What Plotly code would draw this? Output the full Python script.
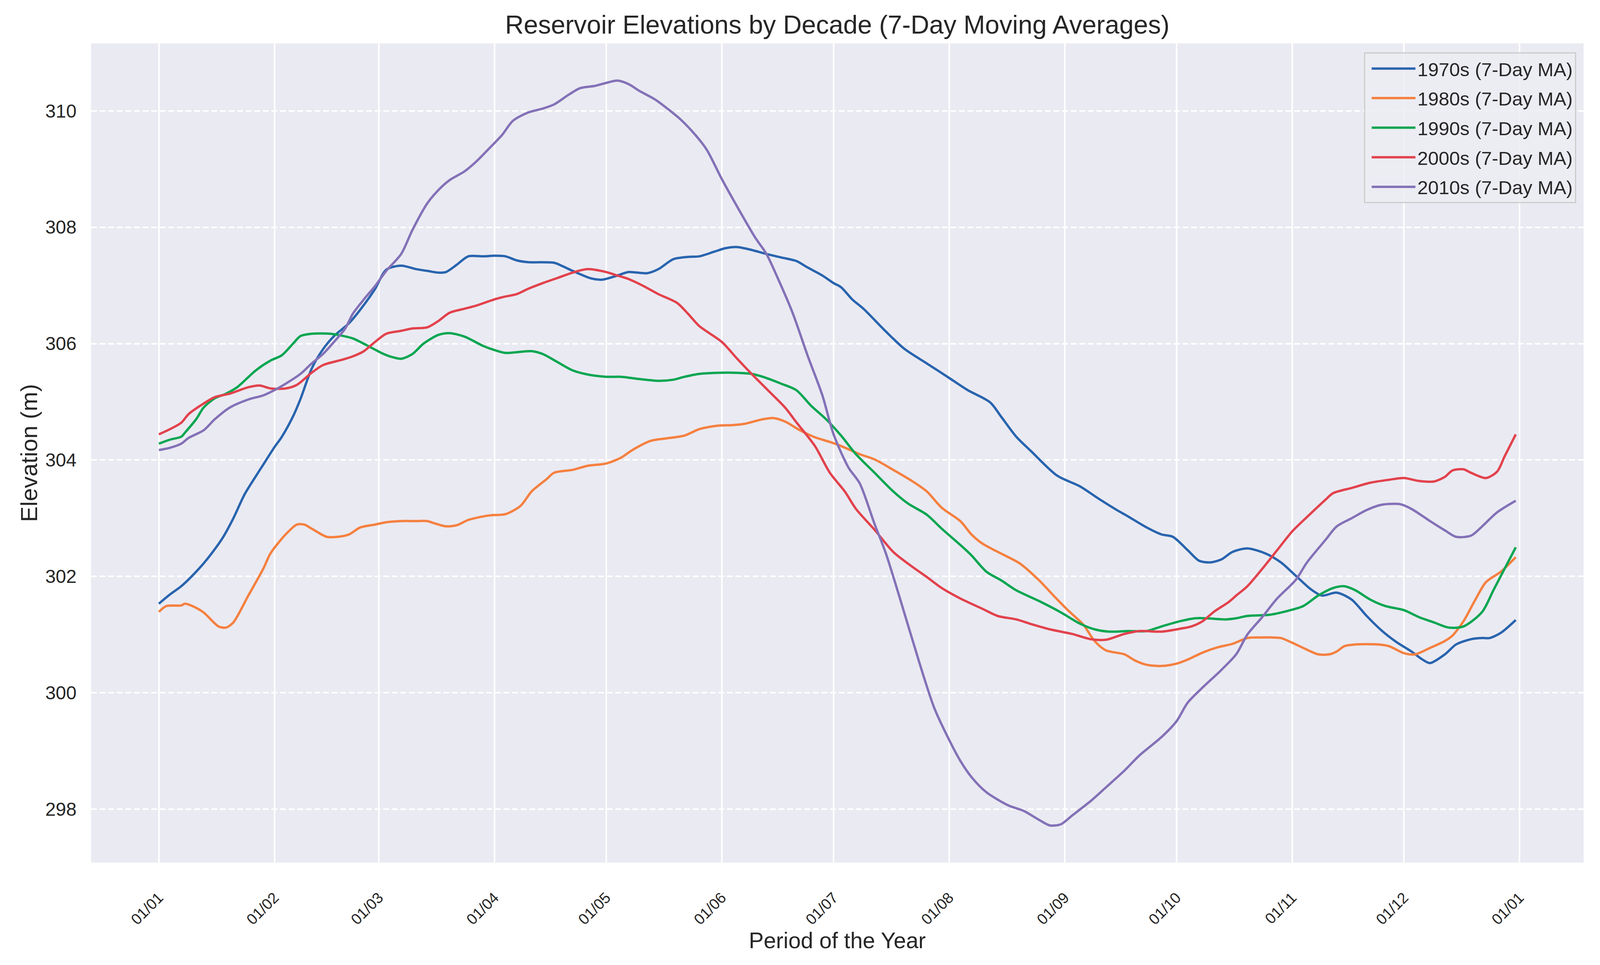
import datetime as dt
import plotly.graph_objects as go

# ---- data (day of year, elevation in m) ----
days_1970s = [0, 3, 6, 10, 13, 17, 20, 23, 26, 28, 31, 33, 36, 38, 41, 44, 47, 51, 54, 58,
              61, 65, 69, 72, 75, 77, 80, 83, 87, 90, 93, 96, 99, 106, 108, 111, 116, 119, 123, 126,
              131, 134, 138, 142, 145, 149, 152, 155, 159, 163, 167, 171, 174, 178, 181, 183, 186, 189, 195, 200,
              206, 212, 217, 223, 226, 230, 234, 241, 247, 252, 257, 260, 265, 269, 272, 276, 279, 282, 285, 288,
              292, 297, 301, 305, 309, 312, 316, 320, 324, 328, 332, 336, 339, 341, 345, 348, 352, 355, 357, 360, 364]
elev_1970s = [301.53, 301.69, 301.83, 302.08, 302.30, 302.65, 303.00, 303.41, 303.72, 303.92, 304.22, 304.40, 304.75, 305.05, 305.57, 305.90, 306.13, 306.35, 306.58, 306.94,
              307.27, 307.34, 307.28, 307.25, 307.22, 307.23, 307.36, 307.50, 307.50, 307.51, 307.50, 307.43, 307.40, 307.39, 307.34, 307.25, 307.12, 307.10, 307.17, 307.23,
              307.21, 307.28, 307.45, 307.49, 307.50, 307.58, 307.64, 307.66, 307.61, 307.54, 307.48, 307.42, 307.31, 307.17, 307.04, 306.97, 306.76, 306.60, 306.21, 305.91,
              305.66, 305.41, 305.20, 304.99, 304.74, 304.40, 304.15, 303.73, 303.55, 303.34, 303.14, 303.03, 302.84, 302.72, 302.68, 302.45, 302.27, 302.24, 302.29, 302.42,
              302.48, 302.39, 302.24, 302.01, 301.78, 301.67, 301.72, 301.60, 301.32, 301.07, 300.87, 300.71, 300.57, 300.51, 300.66, 300.83, 300.92, 300.94, 300.94, 301.03, 301.25]

days_1980s = [0, 2, 6, 7, 9, 12, 16, 18, 20, 24, 28, 30, 34, 37, 39, 41, 45, 48, 51, 54,
              58, 61, 65, 69, 72, 74, 77, 80, 83, 87, 89, 93, 97, 100, 104, 106, 111, 115, 120, 124,
              127, 132, 136, 141, 145, 150, 154, 157, 162, 165, 168, 172, 176, 180, 183, 188, 192, 197, 202, 206,
              210, 215, 218, 221, 226, 231, 236, 240, 244, 248, 251, 254, 259, 262, 265, 269, 273, 276, 280, 284,
              288, 292, 296, 298, 301, 304, 307, 311, 314, 316, 318, 321, 327, 330, 334, 337, 341, 345, 347, 350,
              353, 356, 360, 364]
elev_1980s = [301.39, 301.49, 301.50, 301.53, 301.49, 301.38, 301.14, 301.12, 301.21, 301.67, 302.13, 302.40, 302.72, 302.89, 302.89, 302.82, 302.68, 302.68, 302.72, 302.84,
              302.89, 302.93, 302.95, 302.95, 302.95, 302.91, 302.86, 302.88, 302.97, 303.03, 303.05, 303.07, 303.21, 303.46, 303.67, 303.78, 303.83, 303.90, 303.94, 304.04,
              304.17, 304.33, 304.37, 304.42, 304.53, 304.59, 304.60, 304.62, 304.70, 304.72, 304.66, 304.51, 304.39, 304.31, 304.24, 304.10, 304.01, 303.83, 303.64, 303.46,
              303.18, 302.95, 302.72, 302.56, 302.39, 302.22, 301.94, 301.67, 301.41, 301.17, 300.89, 300.73, 300.66, 300.55, 300.48, 300.46, 300.50, 300.57, 300.69, 300.78,
              300.84, 300.94, 300.95, 300.95, 300.94, 300.86, 300.77, 300.66, 300.66, 300.71, 300.80, 300.83, 300.83, 300.80, 300.68, 300.66, 300.77, 300.89, 300.98, 301.23,
              301.58, 301.90, 302.08, 302.33]

days_1990s = [0, 3, 6, 7, 10, 12, 15, 18, 21, 26, 30, 33, 36, 38, 41, 46, 48, 52, 54, 57,
              60, 62, 65, 68, 71, 75, 78, 82, 87, 90, 93, 100, 103, 107, 111, 115, 120, 124, 129, 134,
              138, 141, 145, 151, 154, 159, 162, 167, 171, 175, 179, 183, 187, 192, 197, 201, 206, 210, 215, 218,
              222, 226, 230, 236, 242, 247, 251, 255, 260, 265, 269, 274, 278, 281, 286, 289, 292, 298, 303, 307,
              311, 315, 318, 321, 325, 329, 334, 338, 342, 346, 350, 355, 358, 361, 364]
elev_1990s = [304.28, 304.35, 304.40, 304.47, 304.70, 304.90, 305.06, 305.14, 305.25, 305.54, 305.71, 305.80, 306.00, 306.13, 306.17, 306.17, 306.15, 306.09, 306.03, 305.93,
              305.83, 305.78, 305.74, 305.82, 306.00, 306.15, 306.18, 306.12, 305.96, 305.89, 305.84, 305.87, 305.82, 305.68, 305.54, 305.47, 305.43, 305.43, 305.39, 305.36,
              305.38, 305.43, 305.48, 305.50, 305.50, 305.48, 305.43, 305.31, 305.20, 304.93, 304.70, 304.42, 304.10, 303.78, 303.46, 303.25, 303.06, 302.82, 302.54, 302.36,
              302.08, 301.93, 301.76, 301.58, 301.38, 301.19, 301.09, 301.05, 301.06, 301.06, 301.14, 301.23, 301.28, 301.28, 301.26, 301.28, 301.32, 301.34, 301.41, 301.49,
              301.67, 301.80, 301.83, 301.76, 301.60, 301.49, 301.42, 301.30, 301.21, 301.12, 301.14, 301.39, 301.76, 302.13, 302.50]

days_2000s = [0, 3, 6, 8, 12, 15, 19, 24, 27, 30, 34, 37, 41, 44, 49, 52, 55, 58, 61, 65,
              68, 72, 75, 78, 82, 85, 90, 93, 96, 99, 103, 107, 111, 115, 120, 123, 126, 130, 134, 139,
              142, 145, 151, 155, 159, 164, 168, 171, 176, 180, 184, 187, 192, 197, 202, 206, 210, 215, 221, 225,
              230, 234, 239, 245, 250, 254, 259, 263, 269, 274, 277, 280, 283, 287, 289, 292, 296, 300, 304, 308,
              313, 315, 320, 325, 330, 334, 338, 342, 345, 347, 350, 352, 356, 359, 361, 364]
elev_2000s = [304.44, 304.53, 304.64, 304.79, 304.97, 305.08, 305.14, 305.25, 305.28, 305.23, 305.23, 305.29, 305.50, 305.63, 305.72, 305.78, 305.87, 306.03, 306.17, 306.22,
              306.26, 306.28, 306.39, 306.53, 306.60, 306.65, 306.76, 306.81, 306.85, 306.94, 307.04, 307.13, 307.22, 307.28, 307.23, 307.17, 307.11, 306.99, 306.85, 306.70,
              306.51, 306.30, 306.03, 305.75, 305.48, 305.16, 304.90, 304.65, 304.24, 303.78, 303.46, 303.16, 302.80, 302.42, 302.17, 301.99, 301.80, 301.62, 301.44, 301.32,
              301.26, 301.18, 301.09, 301.01, 300.92, 300.91, 301.01, 301.06, 301.05, 301.10, 301.14, 301.23, 301.39, 301.56, 301.67, 301.83, 302.13, 302.45, 302.77, 303.02,
              303.32, 303.43, 303.52, 303.61, 303.66, 303.69, 303.64, 303.63, 303.71, 303.82, 303.84, 303.78, 303.69, 303.80, 304.06, 304.44]

days_2010s = [0, 3, 6, 8, 12, 15, 19, 24, 28, 31, 34, 38, 41, 44, 47, 50, 52, 55, 58, 61,
              65, 68, 72, 75, 78, 82, 85, 89, 92, 95, 99, 103, 106, 110, 113, 117, 120, 123, 126, 129,
              133, 136, 140, 144, 147, 151, 155, 160, 163, 166, 170, 174, 178, 181, 185, 188, 192, 195, 199, 204,
              208, 212, 215, 218, 222, 228, 232, 236, 239, 242, 245, 250, 254, 259, 263, 269, 273, 276, 280, 285,
              289, 292, 296, 300, 305, 308, 313, 316, 320, 324, 328, 333, 336, 341, 345, 348, 352, 355, 359, 364]
elev_2010s = [304.17, 304.21, 304.28, 304.38, 304.51, 304.70, 304.90, 305.04, 305.11, 305.20, 305.31, 305.48, 305.66, 305.82, 306.03, 306.26, 306.51, 306.76, 306.99, 307.25,
              307.54, 307.95, 308.41, 308.64, 308.81, 308.96, 309.12, 309.38, 309.58, 309.83, 309.97, 310.04, 310.11, 310.28, 310.39, 310.43, 310.48, 310.52, 310.46, 310.34,
              310.20, 310.06, 309.85, 309.58, 309.33, 308.83, 308.37, 307.82, 307.54, 307.13, 306.53, 305.80, 305.11, 304.44, 303.87, 303.60, 302.90, 302.40, 301.58, 300.52,
              299.74, 299.19, 298.83, 298.55, 298.29, 298.06, 297.97, 297.82, 297.72, 297.74, 297.89, 298.14, 298.37, 298.66, 298.92, 299.24, 299.51, 299.83, 300.09, 300.39,
              300.66, 301.00, 301.30, 301.62, 301.94, 302.24, 302.63, 302.86, 303.00, 303.14, 303.23, 303.24, 303.16, 302.95, 302.79, 302.68, 302.70, 302.86, 303.10, 303.30]

series_names = ["1970s (7-Day MA)", "1980s (7-Day MA)", "1990s (7-Day MA)",
                "2000s (7-Day MA)", "2010s (7-Day MA)"]
series_days = [days_1970s, days_1980s, days_1990s, days_2000s, days_2010s]
series_vals = [elev_1970s, elev_1980s, elev_1990s, elev_2000s, elev_2010s]
colors = ["#2864AE", "#F5803F", "#09A651", "#E2424C", "#8371B7"]

tick_days = [0, 31, 59, 90, 120, 151, 181, 212, 243, 273, 304, 334, 365]
y_ticks = [298, 300, 302, 304, 306, 308, 310]

base = dt.datetime(2001, 1, 1)
def to_date(d):
    return base + dt.timedelta(days=d)

FONT = "Liberation Sans, Arial, sans-serif"
TXT = "#262626"

# the browser viewport is 4096 px wide; keep the reference proportions
W, H = 4096, 2470

fig = go.Figure()
for name, d, v, c in zip(series_names, series_days, series_vals, colors):
    fig.add_trace(go.Scatter(
        x=[to_date(k) for k in d], y=v, mode="lines", name=name, legendgroup=name,
        line=dict(color=c, width=6, shape="spline", smoothing=0.8),
    ))

fig.update_layout(
    width=W, height=H,
    margin=dict(l=233, r=42, t=111, b=262, autoexpand=False),
    paper_bgcolor="white", plot_bgcolor="#EAEAF2",
    font=dict(family=FONT, color=TXT, size=49),
    title=dict(text="Reservoir Elevations by Decade (7-Day Moving Averages)",
               x=0.5, xref="paper", xanchor="center",
               y=1 - 86 / H, yref="container", yanchor="bottom",
               font=dict(size=66, family=FONT, color=TXT)),
    legend=dict(x=0.9949, y=0.989, xanchor="right", yanchor="top",
                bgcolor="rgba(236,236,243,0.85)", bordercolor="#CCCCCC", borderwidth=3,
                font=dict(size=49, family=FONT, color=TXT), itemwidth=112,
                indentation=12, tracegroupgap=9),
    showlegend=True,
)

fig.update_xaxes(
    type="date",
    range=[to_date(-18.2), to_date(382.2)],
    tickvals=[to_date(k) for k in tick_days],
    tickformat="%d/%m", tickangle=-45,
    showgrid=True, gridcolor="white", gridwidth=4,
    zeroline=False, showline=False, ticks="",
    ticklabelstandoff=58,
    tickfont=dict(size=39, family=FONT, color=TXT),
    title=dict(text="Period of the Year", font=dict(size=57, family=FONT, color=TXT), standoff=0),
)
fig.update_yaxes(
    range=[297.08, 311.16],
    tickvals=y_ticks,
    showgrid=True, gridcolor="white", gridwidth=4, griddash="15px,7px",
    zeroline=False, showline=False, ticks="",
    ticklabelstandoff=36,
    tickfont=dict(size=48, family=FONT, color=TXT),
    title=dict(text="Elevation (m)", font=dict(size=60, family=FONT, color=TXT), standoff=0),
)

post = (
    "document.body.style.margin='0';document.body.style.overflow='hidden';"
    "var gd=document.getElementById('{plot_id}');"
    "if(window.innerWidth&&window.innerWidth!==" + str(W) + "){"
    "Plotly.relayout(gd,{width:window.innerWidth,height:window.innerHeight});}"
)
fig.write_html("out.html", post_script=post, config={"displayModeBar": False})
